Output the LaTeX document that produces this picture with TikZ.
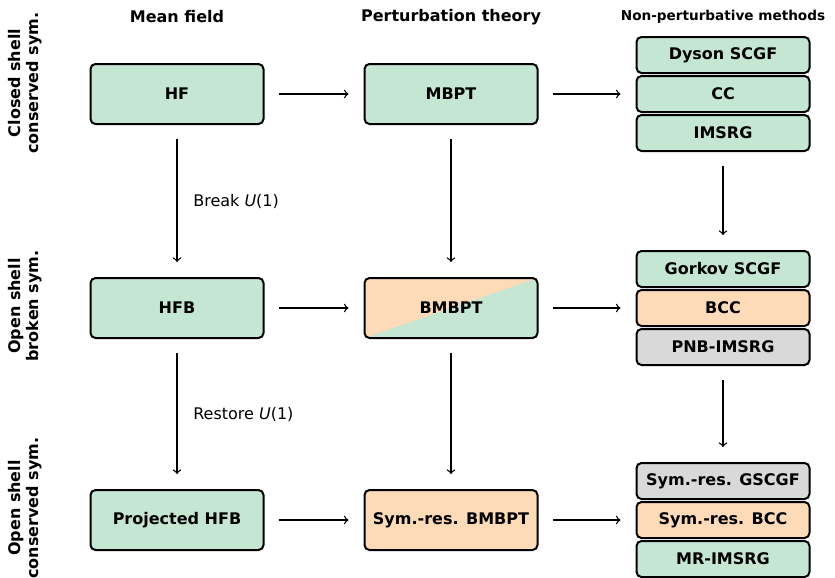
\documentclass[tikz,border=0pt]{standalone}
\usepackage{fontspec}
\setmainfont{DejaVu Sans}
\definecolor{boxgreen}{RGB}{196,230,211}
\definecolor{boxorange}{RGB}{253,218,184}
\definecolor{boxgray}{RGB}{217,217,217}

\begin{document}
\begin{tikzpicture}
      \tikzset{
        node distance=137pt,
        every node/.style={font=\bfseries\fontsize{8}{9}\selectfont},
        method/.style={draw,line width=1pt,rounded corners=2.5pt,minimum width=86.5pt,minimum height=30pt,fill=boxgreen},
        submethod/.style={method,minimum height=18pt},
        split/.style={path picture={\fill[boxorange] (path picture bounding box.south west) -- (path picture bounding box.north west) -- (path picture bounding box.north east) -- cycle;}},
        arr/.style={->,line width=0.65pt,shorten >=7.5pt,shorten <=7pt},
        steplabel/.style={right=4.5pt,font=\normalfont\fontsize{8}{9}\selectfont}
      }
      \useasboundingbox (0,0) rectangle (417.5pt,-289pt);

      % mean field column
      \node[method] (hf) at (88.5pt,-47pt) {HF};
      \node[method,below of=hf,node distance=107pt] (hfb) {HFB};
      \node[method,below of=hfb,node distance=106pt] (phfb) {Projected HFB};

      % perturbation theory column
      \node[method,right of=hf] (mbpt) {MBPT};
      \node[method,right of=hfb,split] (bmbpt) {BMBPT};
      \node[method,right of=phfb,fill=boxorange] (srbmbpt) {Sym.-res. BMBPT};

      % non-perturbative column
      \node[submethod,right of=mbpt,node distance=136pt] (cc) {CC};
      \node[submethod,above of=cc,node distance=19.5pt] (dyson) {Dyson SCGF};
      \node[submethod,below of=cc,node distance=19.5pt] (imsrg) {IMSRG};
      \node[submethod,right of=bmbpt,node distance=136pt,fill=boxorange] (bcc) {BCC};
      \node[submethod,above of=bcc,node distance=19.5pt] (gorkov) {Gorkov SCGF};
      \node[submethod,below of=bcc,node distance=19.5pt,fill=boxgray] (pnb) {PNB-IMSRG};
      \node[submethod,right of=srbmbpt,node distance=136pt,fill=boxorange] (srbcc) {Sym.-res. BCC};
      \node[submethod,above of=srbcc,node distance=19.5pt,fill=boxgray] (gscgf) {Sym.-res. GSCGF};
      \node[submethod,below of=srbcc,node distance=19.5pt] (mrimsrg) {MR-IMSRG};

      % headers
      \node[above of=hf,node distance=38.5pt] (h1) {Mean field};
      \node[above of=mbpt,node distance=38.5pt] (h2) {Perturbation theory};
      \node[above of=dyson,node distance=19pt,font=\bfseries\fontsize{6.8}{8}\selectfont] (h3) {Non-perturbative methods};

      % row labels
      \node[rotate=90,align=center] (r1) at (12.5pt,-41.5pt) {Closed shell\\conserved sym.};
      \node[rotate=90,align=center] (r2) at (12.5pt,-153pt) {Open shell\\broken sym.};
      \node[rotate=90,align=center] (r3) at (12.5pt,-254pt) {Open shell\\conserved sym.};

      \draw (hf) edge[arr] (mbpt)
            (mbpt) edge[arr] (cc)
            (hfb) edge[arr] (bmbpt)
            (bmbpt) edge[arr] (bcc)
            (phfb) edge[arr] (srbmbpt)
            (srbmbpt) edge[arr] (srbcc)
            (hf) edge[arr] node[steplabel] {Break \textit{U}(1)} (hfb)
            (hfb) edge[arr] node[steplabel] {Restore \textit{U}(1)} (phfb)
            (mbpt) edge[arr] (bmbpt)
            (bmbpt) edge[arr] (srbmbpt)
            (imsrg) edge[arr] (gorkov)
            (pnb) edge[arr] (gscgf);
    \end{tikzpicture}
\end{document}
